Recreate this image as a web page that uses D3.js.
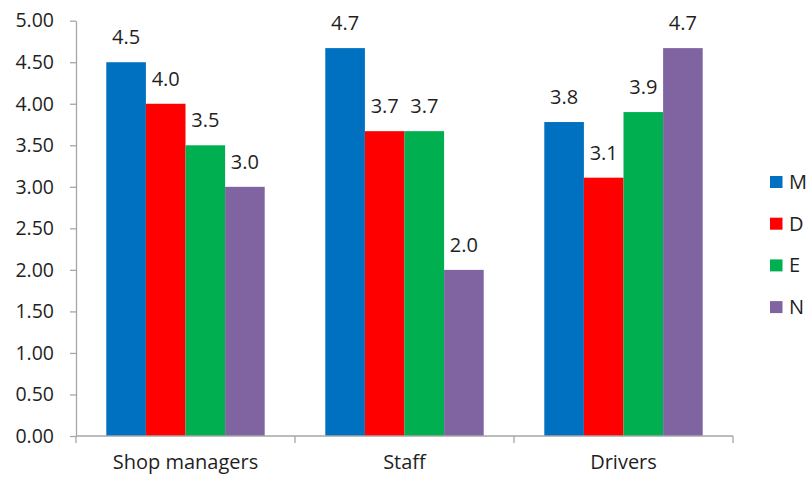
<!DOCTYPE html>
<html>
<head>
<meta charset="utf-8">
<script src="https://cdn.jsdelivr.net/npm/d3@7"></script>
<style>
  body { margin: 0; background: #fff; }
  svg { display: block; font-family: "Open Sans", "Noto Sans", sans-serif; }
</style>
</head>
<body>
<svg id="chart" width="808" height="477"></svg>
<script>
// Categories, series and values
const categories = ["Shop managers", "Staff", "Drivers"];
const seriesNames = ["M", "D", "E", "N"];
const seriesColors = ["#0070C0", "#FF0000", "#00B050", "#8064A2"];
const valuesM = [4.5, 4.67, 3.78];
const valuesD = [4.0, 3.67, 3.11];
const valuesE = [3.5, 3.67, 3.9];
const valuesN = [3.0, 2.0, 4.67];
const yTicks = [0, 0.5, 1, 1.5, 2, 2.5, 3, 3.5, 4, 4.5, 5];

const seriesValues = [valuesM, valuesD, valuesE, valuesN];
const rows = categories.map((c, i) => ({
  category: c,
  values: seriesNames.map((s, j) => ({ series: s, value: seriesValues[j][i], color: seriesColors[j] }))
}));

const svg = d3.select("#chart");
const plotLeft = 76, plotRight = 733, plotTop = 20.7, plotBottom = 436;
const textColor = "#1f1f1f";
const axisColor = "#A6A6A6";

const x0 = d3.scaleBand().domain(categories).range([plotLeft, plotRight]).padding(0);
const x1 = d3.scaleBand().domain(seriesNames).range([0, x0.bandwidth()])
  .paddingInner(0).paddingOuter(0.765);
const y = d3.scaleLinear().domain([0, 5]).range([plotBottom, plotTop]);

// Y axis
const yAxis = svg.append("g")
  .attr("transform", `translate(${plotLeft},0)`)
  .call(d3.axisLeft(y).tickValues(yTicks).tickFormat(d3.format(".2f"))
    .tickSize(6).tickSizeOuter(0).tickPadding(16));
yAxis.selectAll("path, line").attr("stroke", axisColor).attr("stroke-width", 1.3);
yAxis.selectAll("text").attr("fill", textColor).style("font-size", "19.5px")
  .style("font-family", "'Open Sans', sans-serif");

// Bars
const groups = svg.append("g").selectAll("g").data(rows).join("g")
  .attr("transform", d => `translate(${x0(d.category)},0)`);

groups.selectAll("rect").data(d => d.values).join("rect")
  .attr("x", d => x1(d.series))
  .attr("y", d => y(d.value))
  .attr("width", x1.bandwidth())
  .attr("height", d => y(0) - y(d.value))
  .attr("fill", d => d.color);

// Value labels
groups.selectAll("text").data(d => d.values).join("text")
  .attr("x", d => x1(d.series) + x1.bandwidth() / 2)
  .attr("y", d => y(d.value) - 18)
  .attr("text-anchor", "middle")
  .attr("fill", textColor)
  .style("font-size", "20px")
  .text(d => d3.format(".1f")(d.value));

// X axis line with tick marks at category boundaries
const xAxis = svg.append("g");
xAxis.append("line")
  .attr("x1", plotLeft).attr("x2", plotRight)
  .attr("y1", y(0)).attr("y2", y(0))
  .attr("stroke", axisColor).attr("stroke-width", 1.3);
const edges = categories.map(c => x0(c)).concat([x0(categories[categories.length - 1]) + x0.bandwidth()]);
xAxis.selectAll("line.edge").data(edges).join("line")
  .attr("class", "edge")
  .attr("x1", d => d).attr("x2", d => d)
  .attr("y1", y(0)).attr("y2", y(0) + 7)
  .attr("stroke", axisColor).attr("stroke-width", 1.3);
xAxis.selectAll("text").data(categories).join("text")
  .attr("x", d => x0(d) + x0.bandwidth() / 2)
  .attr("y", 469)
  .attr("text-anchor", "middle")
  .attr("fill", textColor)
  .style("font-size", "20px")
  .text(d => d);

// Legend
const legend = svg.append("g").attr("transform", "translate(770,176)");
const items = legend.selectAll("g").data(seriesNames).join("g")
  .attr("transform", (d, i) => `translate(0,${i * 41.7})`);
items.append("rect").attr("width", 12.5).attr("height", 12)
  .attr("fill", (d, i) => seriesColors[i]);
items.append("text").attr("x", 19).attr("y", 6).attr("dy", "0.35em")
  .attr("fill", textColor).style("font-size", "20px").text(d => d);
</script>
</body>
</html>
